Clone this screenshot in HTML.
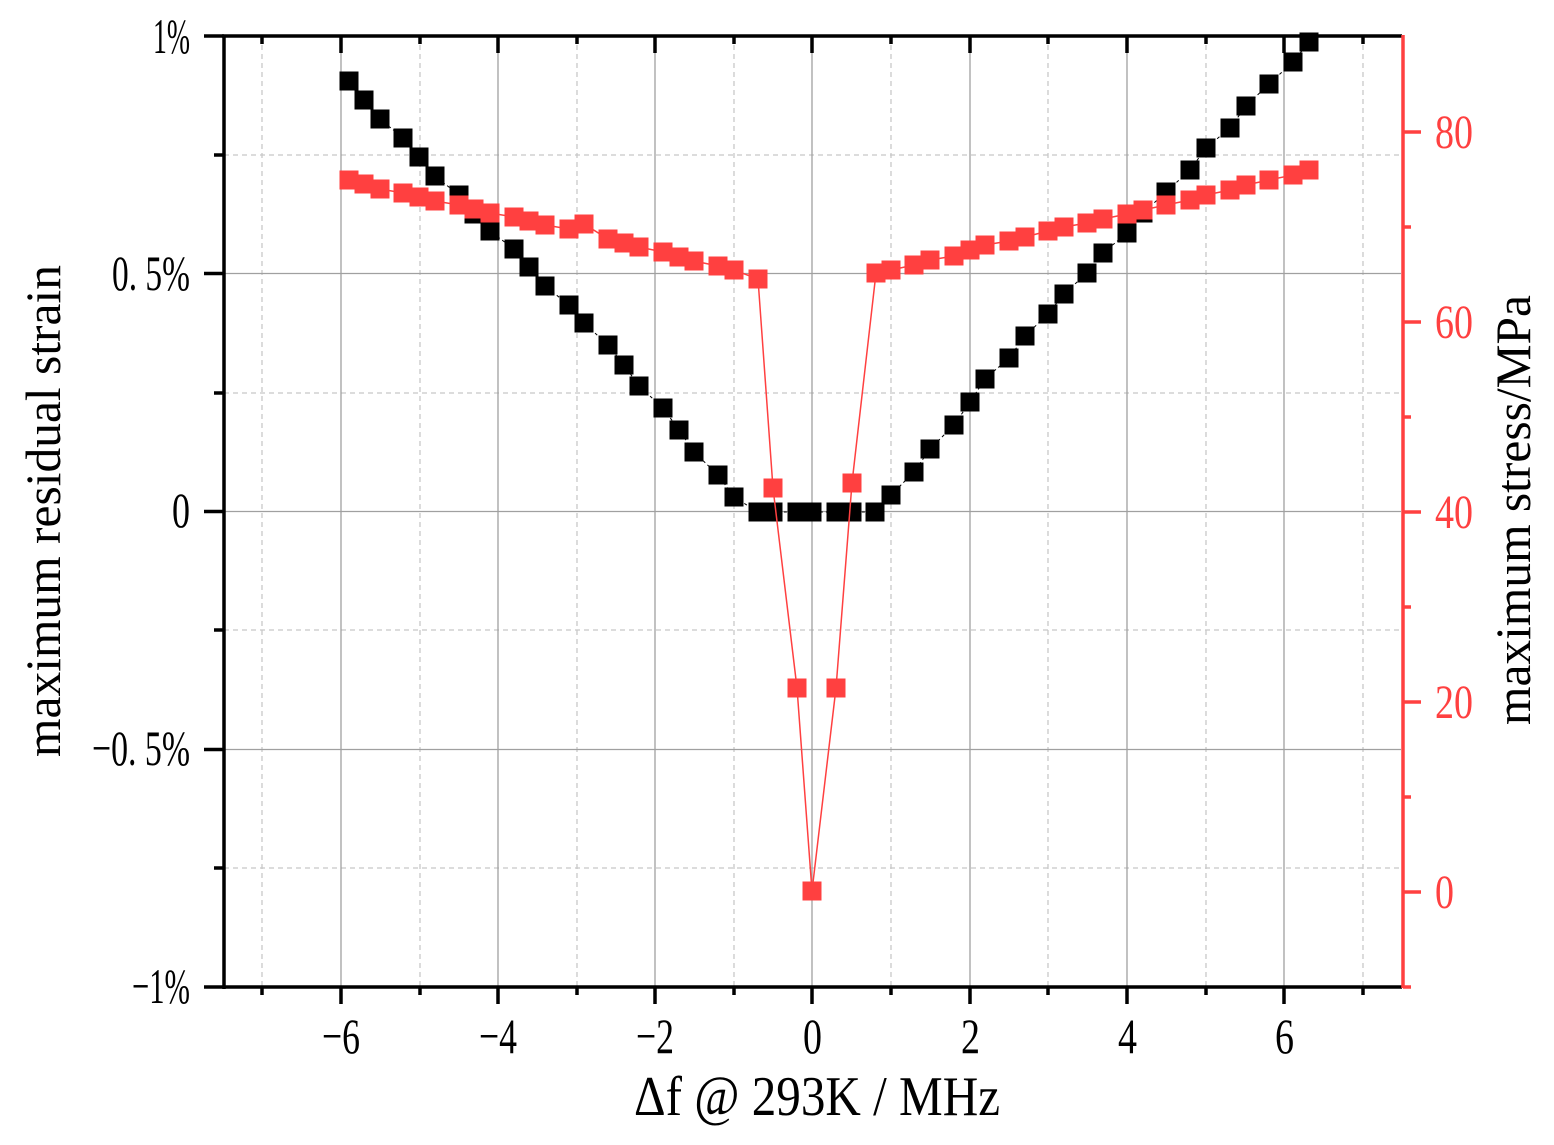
<!DOCTYPE html>
<html><head><meta charset="utf-8"><style>html,body{margin:0;padding:0;background:#fff}svg{display:block}</style></head>
<body>
<svg width="1554" height="1145" xmlns="http://www.w3.org/2000/svg" style="font-family:'Liberation Serif', serif">
<rect width="1554" height="1145" fill="#fff"/>
<g stroke="#c8c8c8" stroke-width="1.3" stroke-dasharray="5,4">
<line x1="262" y1="36" x2="262" y2="987"/><line x1="420" y1="36" x2="420" y2="987"/><line x1="577" y1="36" x2="577" y2="987"/><line x1="734" y1="36" x2="734" y2="987"/><line x1="891" y1="36" x2="891" y2="987"/><line x1="1048" y1="36" x2="1048" y2="987"/><line x1="1206" y1="36" x2="1206" y2="987"/><line x1="1363" y1="36" x2="1363" y2="987"/>
<line x1="224" y1="155" x2="1401" y2="155"/><line x1="224" y1="393" x2="1401" y2="393"/><line x1="224" y1="630" x2="1401" y2="630"/><line x1="224" y1="868" x2="1401" y2="868"/>
</g>
<g stroke="#a0a0a0" stroke-width="1.3">
<line x1="341" y1="36" x2="341" y2="987"/><line x1="498" y1="36" x2="498" y2="987"/><line x1="655" y1="36" x2="655" y2="987"/><line x1="812" y1="36" x2="812" y2="987"/><line x1="970" y1="36" x2="970" y2="987"/><line x1="1127" y1="36" x2="1127" y2="987"/><line x1="1284" y1="36" x2="1284" y2="987"/>
<line x1="224" y1="273.5" x2="1401" y2="273.5"/><line x1="224" y1="511.5" x2="1401" y2="511.5"/><line x1="224" y1="749.5" x2="1401" y2="749.5"/>
</g>
<polyline fill="none" stroke="#000" stroke-width="1" stroke-dasharray="3,3" points="349,81 364,100 380,119 403,138 419,157 435,176 459,195 474,214 490,231 514,249 529,267 545,286 569,305 584,323 608,345 624,365 639,386 663,408 679,430 694,452 718,475 734,497 758,512 773,512 797,512 812,512 836,512 852,512 875,512 891,495 914,472 930,449 954,425 970,402 985,379 1009,358 1025,336 1048,314 1064,294 1087,273 1103,253 1127,233 1143,213 1166,192 1190,170 1206,148 1230,128 1246,106 1269,84 1293,62 1309,42"/>
<g fill="#000">
<rect x="339.5" y="71.5" width="19" height="19"/><rect x="354.5" y="90.5" width="19" height="19"/><rect x="370.5" y="109.5" width="19" height="19"/><rect x="393.5" y="128.5" width="19" height="19"/><rect x="409.5" y="147.5" width="19" height="19"/><rect x="425.5" y="166.5" width="19" height="19"/><rect x="449.5" y="185.5" width="19" height="19"/><rect x="464.5" y="204.5" width="19" height="19"/><rect x="480.5" y="221.5" width="19" height="19"/><rect x="504.5" y="239.5" width="19" height="19"/><rect x="519.5" y="257.5" width="19" height="19"/><rect x="535.5" y="276.5" width="19" height="19"/><rect x="559.5" y="295.5" width="19" height="19"/><rect x="574.5" y="313.5" width="19" height="19"/><rect x="598.5" y="335.5" width="19" height="19"/><rect x="614.5" y="355.5" width="19" height="19"/><rect x="629.5" y="376.5" width="19" height="19"/><rect x="653.5" y="398.5" width="19" height="19"/><rect x="669.5" y="420.5" width="19" height="19"/><rect x="684.5" y="442.5" width="19" height="19"/><rect x="708.5" y="465.5" width="19" height="19"/><rect x="724.5" y="487.5" width="19" height="19"/><rect x="748.5" y="502.5" width="19" height="19"/><rect x="763.5" y="502.5" width="19" height="19"/><rect x="787.5" y="502.5" width="19" height="19"/><rect x="802.5" y="502.5" width="19" height="19"/><rect x="826.5" y="502.5" width="19" height="19"/><rect x="842.5" y="502.5" width="19" height="19"/><rect x="865.5" y="502.5" width="19" height="19"/><rect x="881.5" y="485.5" width="19" height="19"/><rect x="904.5" y="462.5" width="19" height="19"/><rect x="920.5" y="439.5" width="19" height="19"/><rect x="944.5" y="415.5" width="19" height="19"/><rect x="960.5" y="392.5" width="19" height="19"/><rect x="975.5" y="369.5" width="19" height="19"/><rect x="999.5" y="348.5" width="19" height="19"/><rect x="1015.5" y="326.5" width="19" height="19"/><rect x="1038.5" y="304.5" width="19" height="19"/><rect x="1054.5" y="284.5" width="19" height="19"/><rect x="1077.5" y="263.5" width="19" height="19"/><rect x="1093.5" y="243.5" width="19" height="19"/><rect x="1117.5" y="223.5" width="19" height="19"/><rect x="1133.5" y="203.5" width="19" height="19"/><rect x="1156.5" y="182.5" width="19" height="19"/><rect x="1180.5" y="160.5" width="19" height="19"/><rect x="1196.5" y="138.5" width="19" height="19"/><rect x="1220.5" y="118.5" width="19" height="19"/><rect x="1236.5" y="96.5" width="19" height="19"/><rect x="1259.5" y="74.5" width="19" height="19"/><rect x="1283.5" y="52.5" width="19" height="19"/><rect x="1299.5" y="32.5" width="19" height="19"/>
</g>
<polyline fill="none" stroke="#ff4040" stroke-width="1.5" points="349,180 364,184 380,189 403,193 419,197 435,201 459,205 474,209 490,213 514,217 529,221 545,225 569,229 584,224 608,239 624,243 639,247 663,252 679,257 694,261 718,266 734,270 758,279 773,488 797,688 812,891 836,688 852,483 876,273 891,270 914,265 930,260 954,256 970,250 985,245 1009,241 1025,237 1048,231 1064,227 1087,223 1103,219 1127,214 1143,210 1166,205 1190,200 1206,195 1230,190 1246,185 1269,180 1293,175 1309,170"/>
<g fill="#ff4040">
<rect x="339.5" y="170.5" width="19" height="19"/><rect x="354.5" y="174.5" width="19" height="19"/><rect x="370.5" y="179.5" width="19" height="19"/><rect x="393.5" y="183.5" width="19" height="19"/><rect x="409.5" y="187.5" width="19" height="19"/><rect x="425.5" y="191.5" width="19" height="19"/><rect x="449.5" y="195.5" width="19" height="19"/><rect x="464.5" y="199.5" width="19" height="19"/><rect x="480.5" y="203.5" width="19" height="19"/><rect x="504.5" y="207.5" width="19" height="19"/><rect x="519.5" y="211.5" width="19" height="19"/><rect x="535.5" y="215.5" width="19" height="19"/><rect x="559.5" y="219.5" width="19" height="19"/><rect x="574.5" y="214.5" width="19" height="19"/><rect x="598.5" y="229.5" width="19" height="19"/><rect x="614.5" y="233.5" width="19" height="19"/><rect x="629.5" y="237.5" width="19" height="19"/><rect x="653.5" y="242.5" width="19" height="19"/><rect x="669.5" y="247.5" width="19" height="19"/><rect x="684.5" y="251.5" width="19" height="19"/><rect x="708.5" y="256.5" width="19" height="19"/><rect x="724.5" y="260.5" width="19" height="19"/><rect x="748.5" y="269.5" width="19" height="19"/><rect x="763.5" y="478.5" width="19" height="19"/><rect x="787.5" y="678.5" width="19" height="19"/><rect x="802.5" y="881.5" width="19" height="19"/><rect x="826.5" y="678.5" width="19" height="19"/><rect x="842.5" y="473.5" width="19" height="19"/><rect x="866.5" y="263.5" width="19" height="19"/><rect x="881.5" y="260.5" width="19" height="19"/><rect x="904.5" y="255.5" width="19" height="19"/><rect x="920.5" y="250.5" width="19" height="19"/><rect x="944.5" y="246.5" width="19" height="19"/><rect x="960.5" y="240.5" width="19" height="19"/><rect x="975.5" y="235.5" width="19" height="19"/><rect x="999.5" y="231.5" width="19" height="19"/><rect x="1015.5" y="227.5" width="19" height="19"/><rect x="1038.5" y="221.5" width="19" height="19"/><rect x="1054.5" y="217.5" width="19" height="19"/><rect x="1077.5" y="213.5" width="19" height="19"/><rect x="1093.5" y="209.5" width="19" height="19"/><rect x="1117.5" y="204.5" width="19" height="19"/><rect x="1133.5" y="200.5" width="19" height="19"/><rect x="1156.5" y="195.5" width="19" height="19"/><rect x="1180.5" y="190.5" width="19" height="19"/><rect x="1196.5" y="185.5" width="19" height="19"/><rect x="1220.5" y="180.5" width="19" height="19"/><rect x="1236.5" y="175.5" width="19" height="19"/><rect x="1259.5" y="170.5" width="19" height="19"/><rect x="1283.5" y="165.5" width="19" height="19"/><rect x="1299.5" y="160.5" width="19" height="19"/>
</g>
<g stroke="#000" stroke-width="3.5">
<line x1="222" y1="36" x2="1402" y2="36"/>
<line x1="204" y1="987" x2="1402" y2="987"/>
<line x1="224" y1="36" x2="224" y2="989"/>
<line x1="204" y1="36" x2="224" y2="36"/><line x1="214" y1="155" x2="224" y2="155"/><line x1="204" y1="273.5" x2="224" y2="273.5"/><line x1="214" y1="393" x2="224" y2="393"/><line x1="204" y1="511.5" x2="224" y2="511.5"/><line x1="214" y1="630" x2="224" y2="630"/><line x1="204" y1="749.5" x2="224" y2="749.5"/><line x1="214" y1="868" x2="224" y2="868"/>
<line x1="262" y1="987" x2="262" y2="995"/><line x1="341" y1="987" x2="341" y2="1004"/><line x1="420" y1="987" x2="420" y2="995"/><line x1="498" y1="987" x2="498" y2="1004"/><line x1="577" y1="987" x2="577" y2="995"/><line x1="655" y1="987" x2="655" y2="1004"/><line x1="734" y1="987" x2="734" y2="995"/><line x1="812" y1="987" x2="812" y2="1004"/><line x1="891" y1="987" x2="891" y2="995"/><line x1="970" y1="987" x2="970" y2="1004"/><line x1="1048" y1="987" x2="1048" y2="995"/><line x1="1127" y1="987" x2="1127" y2="1004"/><line x1="1206" y1="987" x2="1206" y2="995"/><line x1="1284" y1="987" x2="1284" y2="1004"/><line x1="1363" y1="987" x2="1363" y2="995"/>
<line x1="262" y1="36" x2="262" y2="44"/><line x1="341" y1="36" x2="341" y2="53"/><line x1="420" y1="36" x2="420" y2="44"/><line x1="498" y1="36" x2="498" y2="53"/><line x1="577" y1="36" x2="577" y2="44"/><line x1="655" y1="36" x2="655" y2="53"/><line x1="734" y1="36" x2="734" y2="44"/><line x1="812" y1="36" x2="812" y2="53"/><line x1="891" y1="36" x2="891" y2="44"/><line x1="970" y1="36" x2="970" y2="53"/><line x1="1048" y1="36" x2="1048" y2="44"/><line x1="1127" y1="36" x2="1127" y2="53"/><line x1="1206" y1="36" x2="1206" y2="44"/><line x1="1284" y1="36" x2="1284" y2="53"/><line x1="1363" y1="36" x2="1363" y2="44"/>
</g>
<g stroke="#ff4040" stroke-width="3.5">
<line x1="1403" y1="35" x2="1403" y2="988"/>
<line x1="1403" y1="132" x2="1421" y2="132"/><line x1="1403" y1="227" x2="1411" y2="227"/><line x1="1403" y1="322" x2="1421" y2="322"/><line x1="1403" y1="417" x2="1411" y2="417"/><line x1="1403" y1="512" x2="1421" y2="512"/><line x1="1403" y1="607" x2="1411" y2="607"/><line x1="1403" y1="702" x2="1421" y2="702"/><line x1="1403" y1="797" x2="1411" y2="797"/><line x1="1403" y1="892" x2="1421" y2="892"/><line x1="1403" y1="987" x2="1411" y2="987"/>
</g>
<g style="font-size:50px" fill="#000">
<text x="153" y="53" textLength="37" lengthAdjust="spacingAndGlyphs">1%</text>
<text x="112" y="290" textLength="78" lengthAdjust="spacingAndGlyphs">0. 5%</text>
<text x="172" y="527" textLength="18" lengthAdjust="spacingAndGlyphs">0</text>
<text x="92" y="765" textLength="98" lengthAdjust="spacingAndGlyphs">−0. 5%</text>
<text x="132" y="1003" textLength="58" lengthAdjust="spacingAndGlyphs">−1%</text>
</g>
<g style="font-size:50px" fill="#000">
<text x="322" y="1053" textLength="38" lengthAdjust="spacingAndGlyphs">−6</text>
<text x="479" y="1053" textLength="38" lengthAdjust="spacingAndGlyphs">−4</text>
<text x="636" y="1053" textLength="38" lengthAdjust="spacingAndGlyphs">−2</text>
<text x="803" y="1053" textLength="19" lengthAdjust="spacingAndGlyphs">0</text>
<text x="961" y="1053" textLength="19" lengthAdjust="spacingAndGlyphs">2</text>
<text x="1118" y="1053" textLength="19" lengthAdjust="spacingAndGlyphs">4</text>
<text x="1275" y="1053" textLength="19" lengthAdjust="spacingAndGlyphs">6</text>
</g>
<g style="font-size:48px" fill="#ff4040">
<text x="1435" y="148" textLength="38" lengthAdjust="spacingAndGlyphs">80</text>
<text x="1435" y="338" textLength="38" lengthAdjust="spacingAndGlyphs">60</text>
<text x="1435" y="528" textLength="38" lengthAdjust="spacingAndGlyphs">40</text>
<text x="1435" y="718" textLength="38" lengthAdjust="spacingAndGlyphs">20</text>
<text x="1435" y="908" textLength="19" lengthAdjust="spacingAndGlyphs">0</text>
</g>
<text x="634" y="1115" style="font-size:56px" fill="#000" textLength="366" lengthAdjust="spacingAndGlyphs">Δf @ 293K / MHz</text>
<text transform="translate(60,757) rotate(-90)" style="font-size:50px" fill="#000" textLength="492" lengthAdjust="spacingAndGlyphs">maximum residual strain</text>
<text transform="translate(1530,725) rotate(-90)" style="font-size:50px" fill="#000" textLength="430" lengthAdjust="spacingAndGlyphs">maximum stress/MPa</text>
</svg>
</body></html>
